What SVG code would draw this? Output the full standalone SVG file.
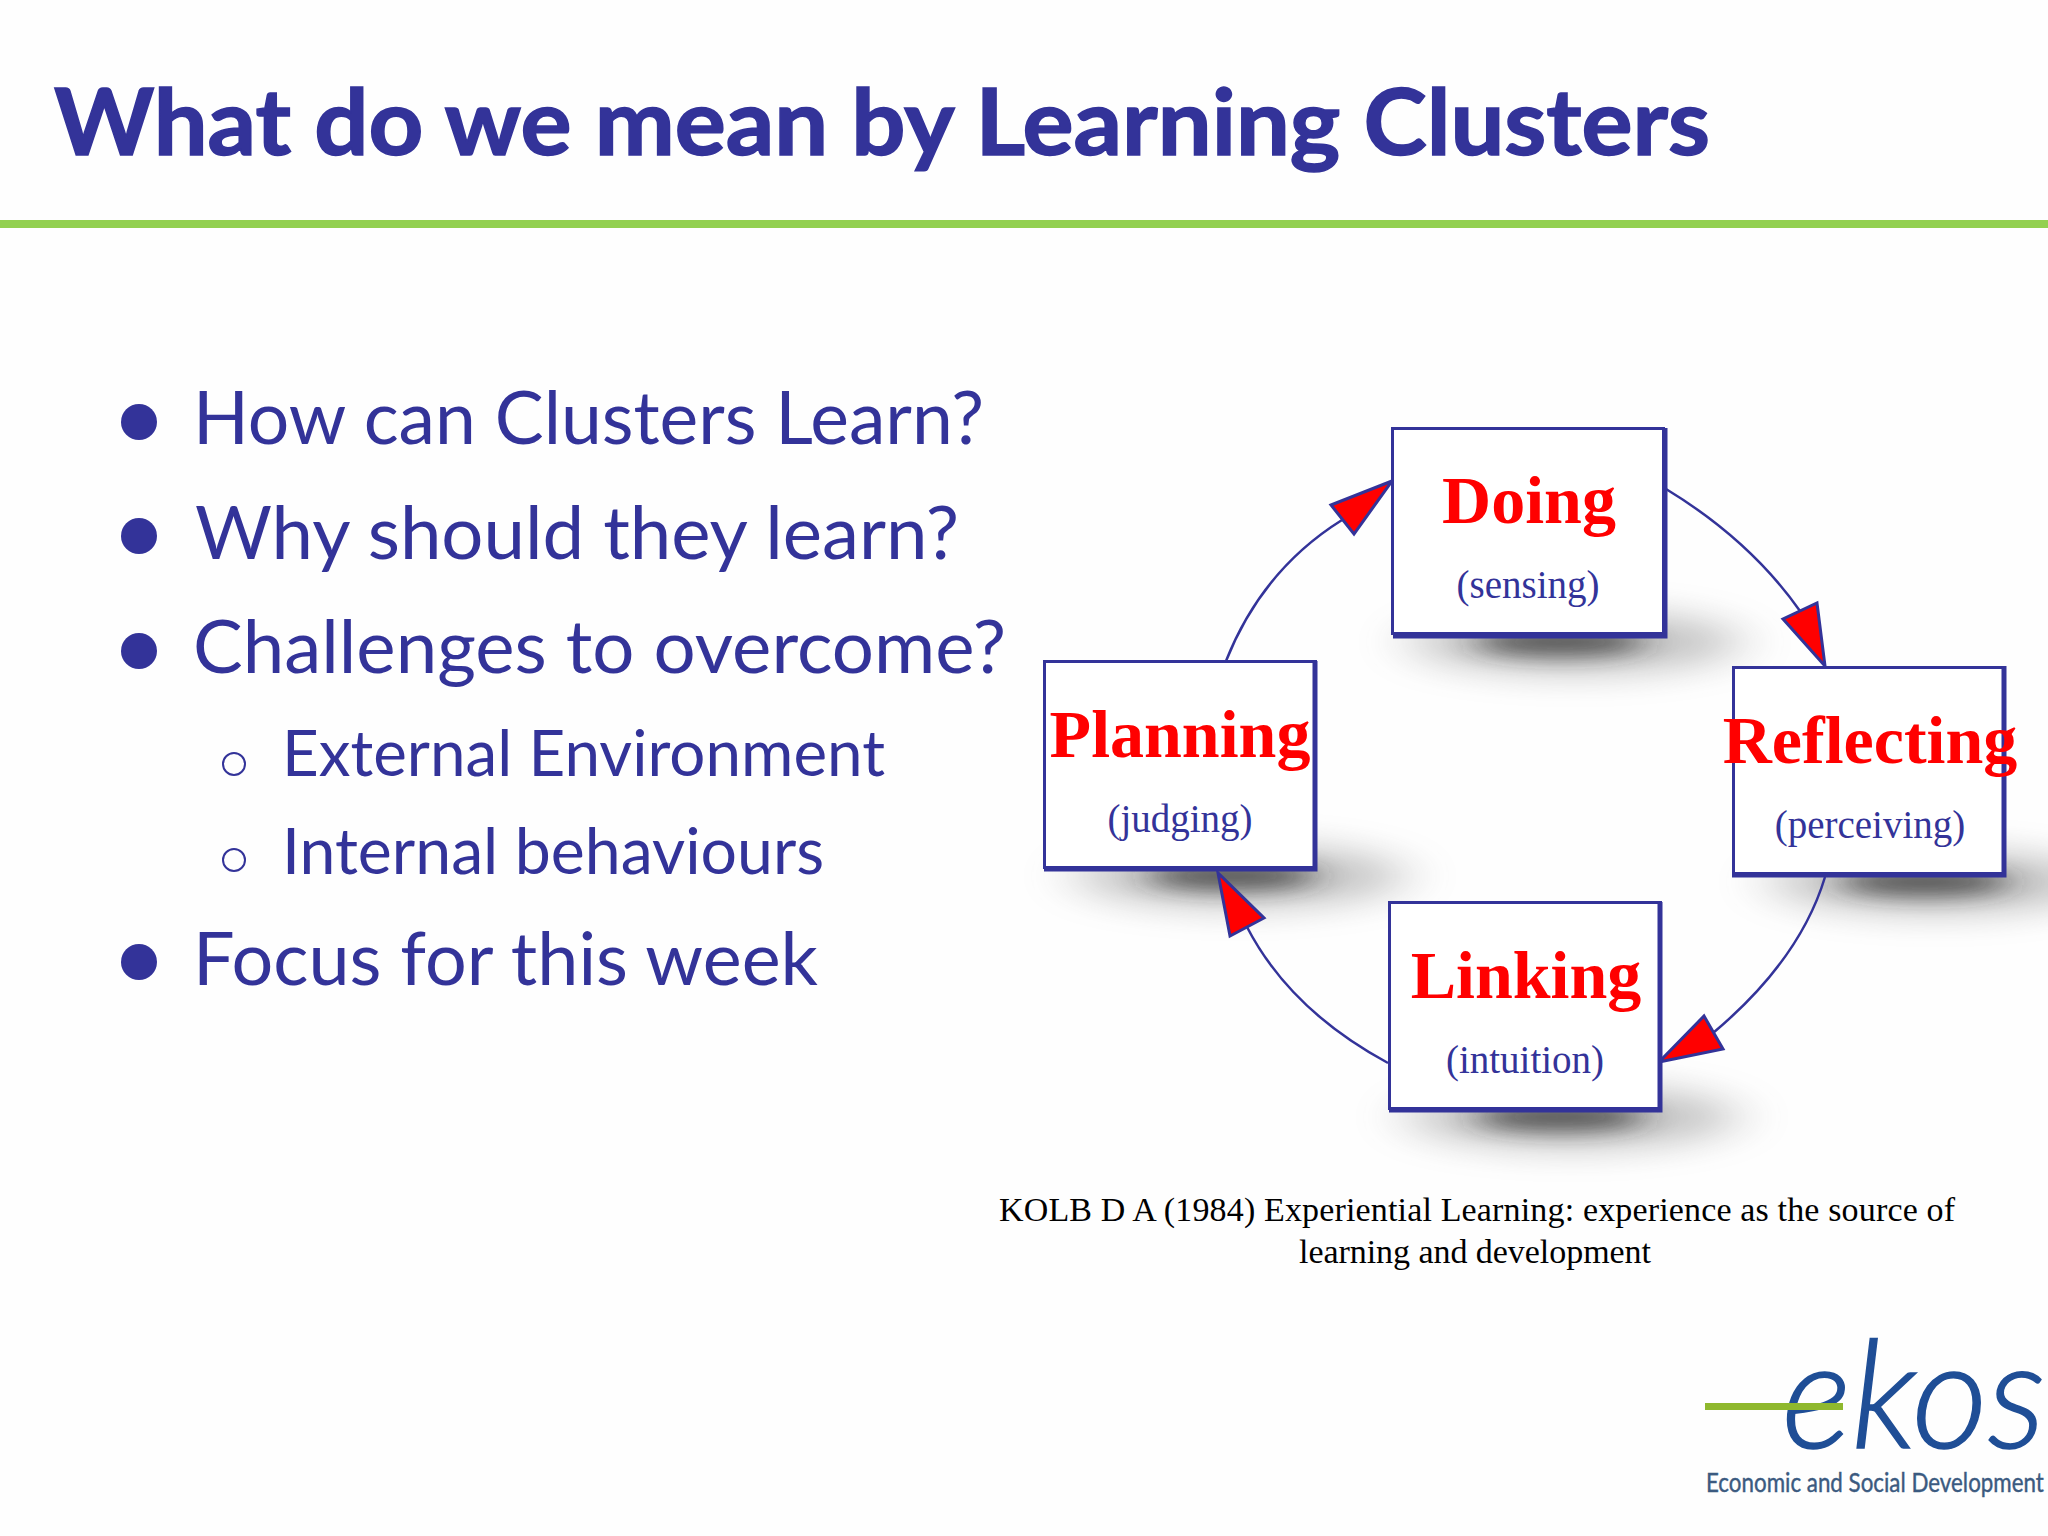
<svg xmlns="http://www.w3.org/2000/svg" width="2048" height="1536" viewBox="0 0 2048 1536">
<style>
.title{font-family:Lato,"Liberation Sans",sans-serif;font-weight:700;font-size:92px;fill:#333399;stroke:#333399;stroke-width:1.5}
.b1{font-family:Lato,"Liberation Sans",sans-serif;font-size:74px;fill:#333399}
.b2{font-family:Lato,"Liberation Sans",sans-serif;font-size:63px;fill:#333399}
.bul{fill:#333399}
.sub{fill:none;stroke:#333399;stroke-width:2}
.box{fill:#fff;stroke:#333399;stroke-width:3}
.edge{fill:none;stroke:#333399;stroke-width:5}
.soft{fill:#555;opacity:.34;filter:url(#blur2)}
.shadow{fill:#2a2a2a;opacity:.72;filter:url(#blur)}
.h{font-family:"Liberation Serif",serif;font-weight:700;font-size:68px;fill:#f00;text-anchor:middle}
.s{font-family:"Liberation Serif",serif;font-size:39px;fill:#333399;text-anchor:middle}
.c{fill:none;stroke:#333399;stroke-width:2.5}
.a{fill:#f00;stroke:#333399;stroke-width:3;stroke-linejoin:miter}
.k{font-family:"Liberation Serif",serif;font-size:34px;fill:#000}
</style>
<defs>
<filter id="blur" x="-50%" y="-300%" width="200%" height="700%"><feGaussianBlur stdDeviation="18 10"/></filter>
<filter id="blur2" x="-50%" y="-200%" width="200%" height="500%"><feGaussianBlur stdDeviation="28 16"/></filter>
</defs>
<rect width="2048" height="1536" fill="#fefefe"/>
<text class="title" x="54" y="155" textLength="1656" lengthAdjust="spacingAndGlyphs">What do we mean by Learning Clusters</text>
<rect x="0" y="220" width="2048" height="8" fill="#92d050"/>
<g id="bullets">
<circle class="bul" cx="139" cy="422" r="18"/>
<text class="b1" x="193" y="444" textLength="791" lengthAdjust="spacingAndGlyphs">How can Clusters Learn?</text>
<circle class="bul" cx="139" cy="536" r="18"/>
<text class="b1" x="195" y="559" textLength="764" lengthAdjust="spacingAndGlyphs">Why should they learn?</text>
<circle class="bul" cx="139" cy="651" r="18"/>
<text class="b1" x="193" y="673" textLength="813" lengthAdjust="spacingAndGlyphs">Challenges to overcome?</text>
<circle class="sub" cx="234" cy="764" r="11"/>
<text class="b2" x="282" y="776" textLength="603" lengthAdjust="spacingAndGlyphs">External Environment</text>
<circle class="sub" cx="234" cy="860" r="11"/>
<text class="b2" x="282" y="874" textLength="542" lengthAdjust="spacingAndGlyphs">Internal behaviours</text>
<circle class="bul" cx="139" cy="962" r="18"/>
<text class="b1" x="193" y="985" textLength="625" lengthAdjust="spacingAndGlyphs">Focus for this week</text>
</g>
<g id="shadows">
<ellipse class="soft" cx="1575" cy="642" rx="165" ry="32"/>
<ellipse class="shadow" cx="1560" cy="642" rx="85" ry="14"/>
<ellipse class="soft" cx="1240" cy="876" rx="165" ry="32"/>
<ellipse class="shadow" cx="1232" cy="876" rx="85" ry="14"/>
<ellipse class="soft" cx="1935" cy="882" rx="165" ry="32"/>
<ellipse class="shadow" cx="1925" cy="882" rx="85" ry="14"/>
<ellipse class="soft" cx="1572" cy="1117" rx="165" ry="32"/>
<ellipse class="shadow" cx="1560" cy="1117" rx="85" ry="14"/>
</g>
<g id="connectors">
<path class="c" d="M1666 489 Q1750 540 1800 611"/>
<path class="a" d="M1825 666 L1783 619 L1817 603 Z"/>
<path class="c" d="M1825 877 Q1800 960 1713 1033" />
<path class="a" d="M1659 1062 L1704 1016 L1723 1049 Z"/>
<path class="c" d="M1388 1063 Q1290 1010 1247 927"/>
<path class="a" d="M1218 873 L1230 936 L1264 918 Z"/>
<path class="c" d="M1226 661 Q1262 570 1342 520"/>
<path class="a" d="M1392 481 L1331 505 L1354 534 Z"/>
</g>
<g id="doing">
<rect class="box" x="1392.500" y="428.500" width="271" height="205"/>
<path class="edge" d="M1665 428 V636 H1393"/>
<text class="h" x="1529" y="523">Doing</text>
<text class="s" x="1528" y="598">(sensing)</text>
</g>
<g id="planning">
<rect class="box" x="1044.500" y="661.500" width="271" height="206"/>
<path class="edge" d="M1315 661 V869 H1044"/>
<text class="h" x="1180" y="757">Planning</text>
<text class="s" x="1180" y="832">(judging)</text>
</g>
<g id="reflecting">
<rect class="box" x="1733.500" y="667.500" width="271" height="206"/>
<path class="edge" d="M2004 666 V875 H1732"/>
<text class="h" x="1870" y="763">Reflecting</text>
<text class="s" x="1870" y="838">(perceiving)</text>
</g>
<g id="linking">
<rect class="box" x="1389.500" y="902.500" width="271" height="206"/>
<path class="edge" d="M1660 902 V1110 H1389"/>
<text class="h" x="1526" y="998">Linking</text>
<text class="s" x="1525" y="1073">(intuition)</text>
</g>
<g id="reference">
<text class="k" x="999" y="1221" textLength="956">KOLB D A (1984) Experiential Learning: experience as the source of</text>
<text class="k" x="1299" y="1263" textLength="352">learning and development</text>
</g>
<g id="logo">
<text transform="translate(1782 1448) scale(.985 1)" font-family="Lato,'Liberation Sans',sans-serif" font-weight="300" font-style="italic" font-size="150" fill="#1f4e96" stroke="#1f4e96" stroke-width="1.5">ekos</text>
<rect x="1705" y="1403" width="138" height="7" fill="#8fb82e"/>
<text transform="translate(1706 1492) scale(.86 1)" font-family="Lato,'Liberation Sans',sans-serif" font-size="26" fill="#3b5a80" stroke="#3b5a80" stroke-width=".4">Economic and Social Development</text>
</g>
</svg>
